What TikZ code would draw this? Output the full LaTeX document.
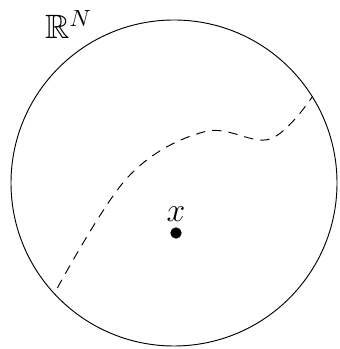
\documentclass[tikz,border=0pt]{standalone}
\usepackage{amsmath}
\usepackage{amssymb}
\usepackage{tikz}
\usetikzlibrary{calc}

\begin{document}
\begin{tikzpicture}[
            >=stealth,
            every node/.style={align=center}
        ]

        % Constants
        \def\rad{2.445}    % Radius of the ball
        \def\dotr{0.085}   % Radius of the point

        % Fix the margins
        \useasboundingbox (-2.61, -2.49) rectangle (2.475, 2.745);

        % --- The ball ---
        \node[draw, circle, thin, minimum size=2*\rad cm, inner sep=0pt] (ball) at (0, 0) {};
        \node[font=\Large] (space) at (-1.58, 2.38) {$\mathbb{R}^N$};

        % --- The point ---
        \fill (0.03, -0.75) circle (\dotr) coordinate (pt);
        \node[above=3.5pt, inner sep=1pt, font=\Large] (xlab) at (pt) {$x$};

        % --- Dashed curve through the ball ---
        \coordinate (cstart) at ($(ball.center)!0.96!(ball.222)$);
        \coordinate (cend) at (ball.32);
        \draw[dash pattern=on 4pt off 3pt, thin] plot[smooth, tension=0.6] coordinates {(cstart) (-0.69, 0.09) (0.46, 0.77) (1.44, 0.66) (cend)};

        \end{tikzpicture}
\end{document}
